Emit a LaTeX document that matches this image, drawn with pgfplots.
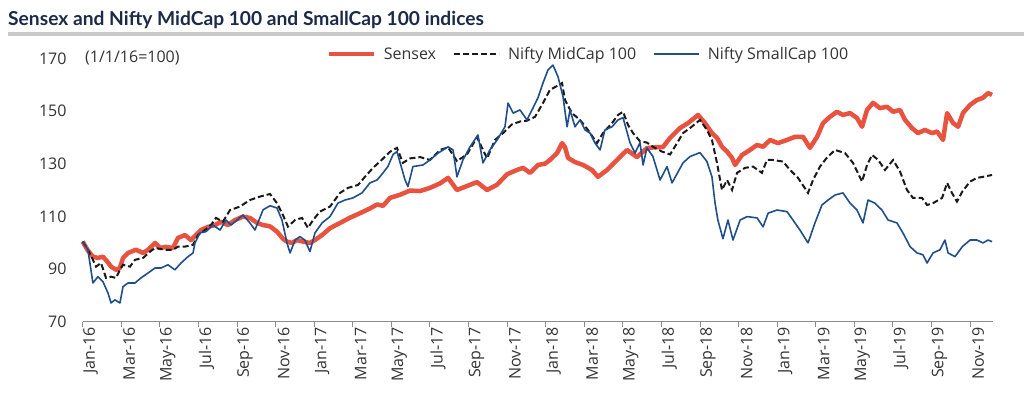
\documentclass[border=0pt]{standalone}
\usepackage{pgfplots}
\pgfplotsset{compat=1.18}
\usepackage{fontspec}
\setmainfont{Open Sans}
\newfontfamily\titlefam{Lato}
\definecolor{sensexred}{HTML}{E8533F}
\definecolor{midblack}{HTML}{1A1A1A}
\definecolor{smallblue}{HTML}{1F4E8A}
\definecolor{titlenavy}{HTML}{1B2A49}
\definecolor{rulegrey}{HTML}{C9C9C9}
\definecolor{axisgrey}{HTML}{8C8C8C}
\definecolor{labelgrey}{HTML}{333333}
\newcommand{\lblfont}{\fontsize{16}{19}\selectfont}
\begin{document}
\begin{tikzpicture}[x=1pt,y=1pt]
\useasboundingbox (0,0) rectangle (1024,397);
\node[anchor=base west, inner sep=0pt, text=titlenavy, font=\titlefam\bfseries\fontsize{19.2}{22}\selectfont] at (8,371) {Sensex and Nifty MidCap 100 and SmallCap 100 indices};
\draw[rulegrey, line width=3.5pt] (8,363) -- (1024,363);
\begin{axis}[
  at={(82.7pt,75.3pt)}, anchor=south west,
  scale only axis, width=910.5pt, height=263.4pt,
  xmin=0, xmax=47.2, ymin=70, ymax=170,
  axis x line*=bottom, axis y line*=left,
  x axis line style={draw=axisgrey, line width=1pt},
  y axis line style={draw=none},
  xtick={0,2,...,46},
  xticklabels={Jan-16,Mar-16,May-16,Jul-16,Sep-16,Nov-16,Jan-17,Mar-17,May-17,Jul-17,Sep-17,Nov-17,Jan-18,Mar-18,May-18,Jul-18,Sep-18,Nov-18,Jan-19,Mar-19,May-19,Jul-19,Sep-19,Nov-19},
  ytick={70,90,110,130,150,170},
  tick align=outside, major tick length=5pt,
  xtick style={draw=axisgrey, line width=1pt},
  ytick style={draw=none},
  /pgf/number format/assume math mode=true,
  tick label style={font=\lblfont, text=labelgrey},
  xticklabel style={rotate=90, anchor=east, inner sep=0pt, yshift=-8pt},
  yticklabel style={anchor=east, inner sep=0pt, xshift=-11pt},
  legend columns=3,
  legend style={draw=none, fill=none, at={(0.2674,1.016)}, anchor=west, inner sep=0pt,
    font=\lblfont, text=labelgrey,
    /tikz/every odd column/.style={column sep=6pt},
    /tikz/every even column/.style={column sep=15pt}},
  legend image code/.code={\draw[#1] (0pt,0pt) -- (45pt,0pt);},
  clip=false,
]
\addplot[sensexred, line width=4.5pt, line join=round] coordinates {
(0,100.4)(0.27,97)(0.53,94.7)(0.79,94.2)(1.05,94.7)(1.31,92.5)(1.47,90.9)(1.73,89.7)(1.93,90.4)(2.09,94.2)(2.35,96.1)(2.76,97.3)(3.13,96.1)(3.39,97.3)(3.75,99.9)(4.01,98)(4.32,98.4)(4.68,98)(4.94,101.8)(5.30,102.9)(5.61,101)(5.87,102.9)(6.13,104.8)(6.50,106)(6.86,106.7)(7.17,107.9)(7.53,106.7)(7.90,108.6)(8.31,109.9)(8.67,109.4)(9.04,107.5)(9.35,106.7)(9.71,106.2)(10.07,104.2)(10.38,101.5)(10.59,100.4)(10.85,99.9)(11.11,101)(11.42,100.4)(11.78,99.9)(12.04,101)(12.41,102.9)(12.82,105.5)(13.34,107.5)(13.86,109.5)(14.38,111.2)(14.89,113)(15.26,114.5)(15.57,114)(15.93,117)(16.45,118.2)(16.97,119.8)(17.49,119.6)(18.00,120.8)(18.52,122.5)(18.94,124.6)(19.40,120)(19.92,121.5)(20.44,123)(20.96,120)(21.48,122)(22.00,126)(22.51,127.6)(22.83,128.4)(23.19,126.5)(23.60,129.5)(23.97,130)(24.22,131.4)(24.59,134)(24.85,137.8)(25.00,136.3)(25.16,132.2)(25.52,130.6)(25.94,129.5)(26.40,127.6)(26.71,125)(27.18,127.6)(27.70,131.4)(28.22,135.2)(28.73,132.5)(29.25,135.9)(29.77,136.3)(30.08,136.3)(30.45,139.8)(30.96,143.5)(31.38,145.4)(31.90,148.5)(32.26,145.4)(32.62,141.6)(32.88,139.8)(33.14,136.4)(33.40,134.6)(33.66,132.2)(33.82,129.5)(34.18,133.3)(34.59,135.2)(34.96,137.1)(35.27,136.4)(35.63,139)(36.04,137.8)(36.51,139)(36.93,140.2)(37.34,140.2)(37.70,136)(38.07,140.2)(38.38,145.4)(38.74,147.8)(39.10,149.7)(39.41,148.5)(39.78,149.2)(40.14,147.3)(40.40,144)(40.66,150.4)(40.97,153.1)(41.33,151.1)(41.70,151.6)(42.01,149.7)(42.37,150.4)(42.63,146.6)(42.99,143.5)(43.30,141.6)(43.66,142.8)(44.03,141.6)(44.29,142.2)(44.60,139)(44.81,149.2)(45.12,145.4)(45.38,144)(45.63,149.2)(46.00,152.3)(46.36,154.2)(46.67,155)(46.93,156.8)(47.14,156.1)
};
\addlegendentry{Sensex}
\addplot[midblack, line width=2pt, dash pattern=on 6pt off 3pt] coordinates {
(0,100.4)(0.27,97.3)(0.53,93.5)(0.69,90.9)(0.95,92.3)(1.21,86.6)(1.47,87.1)(1.73,86.6)(1.93,89.7)(2.09,91.6)(2.45,90.9)(2.71,93.5)(3.13,94.2)(3.49,96.6)(3.75,98)(4.27,97.3)(4.68,97.3)(4.94,98.5)(5.30,98.5)(5.72,99.2)(5.98,102.9)(6.34,104.8)(6.65,106.7)(6.91,109.4)(7.27,108)(7.64,112.4)(8.15,113.7)(8.67,116.2)(9.19,117.5)(9.71,118.5)(10.07,115)(10.38,110.5)(10.64,106.1)(11.01,108.6)(11.37,109.4)(11.68,105.6)(11.94,108.6)(12.30,111.8)(12.82,113.7)(13.34,118.9)(13.75,120.8)(14.27,121.9)(14.63,125)(15.05,128.4)(15.41,130.8)(15.93,134.5)(16.29,136)(16.60,130.3)(16.97,132)(17.49,132.5)(18.00,131.4)(18.52,135.2)(18.94,136.2)(19.40,131)(19.92,133.5)(20.44,140)(20.96,132)(21.37,139)(21.79,141.6)(22.25,144.9)(22.67,146)(23.03,146.3)(23.45,147.8)(23.86,153)(24.22,158)(24.59,159.5)(24.85,160.6)(25.00,154.2)(25.36,149.2)(25.78,146.6)(26.19,142.8)(26.66,137.8)(26.97,141.6)(27.44,145.4)(27.75,148.5)(28.01,149.7)(28.27,144.7)(28.53,141.6)(28.89,138.5)(29.25,138)(29.56,136.4)(30.03,134.6)(30.45,133.5)(30.81,137.8)(31.12,141.6)(31.48,143.5)(32.00,146.6)(32.36,142.8)(32.62,139)(32.88,130.3)(33.14,120)(33.40,123.8)(33.66,120)(33.92,126.5)(34.33,128.4)(34.75,128.9)(35.21,126.5)(35.47,131.4)(35.78,131.4)(36.30,130.8)(36.67,127.6)(37.08,124.6)(37.60,118.9)(37.86,123.8)(38.22,128.9)(38.57,132.2)(39.00,135.2)(39.52,134)(39.93,130.3)(40.40,123.2)(40.66,129.5)(40.92,133.3)(41.24,131.4)(41.59,127.6)(42.01,131.4)(42.37,127)(42.73,120)(43.04,117)(43.51,117)(43.77,114.3)(44.08,115)(44.55,117)(44.81,122.7)(45.06,118.9)(45.32,115.6)(45.60,119.4)(46.00,123.2)(46.36,124.6)(46.67,125)(47.14,125.7)
};
\addlegendentry{Nifty MidCap 100}
\addplot[smallblue, line width=1.6pt, line join=round] coordinates {
(0,100.4)(0.27,97.3)(0.53,84.7)(0.79,87.1)(1.05,85.2)(1.31,80.9)(1.47,77.1)(1.67,78.3)(1.93,77.1)(2.09,83.3)(2.35,84.7)(2.71,84.7)(3.02,86.6)(3.39,88.5)(3.75,90.4)(4.06,90.4)(4.42,91.6)(4.78,89.7)(5.10,92.3)(5.46,94.7)(5.72,96.1)(5.82,99.9)(6.08,103.7)(6.39,104.2)(6.75,106.7)(7.12,104.8)(7.43,108.6)(7.69,106.7)(8.00,108.6)(8.31,110.5)(8.67,107.5)(8.93,104.8)(9.35,112.5)(9.71,114)(10.07,113.2)(10.33,108.6)(10.59,99.9)(10.75,96.1)(11.01,101)(11.26,102.3)(11.52,101)(11.78,96.6)(12.04,103.7)(12.41,107.5)(12.82,109.9)(13.23,115)(13.60,116.2)(14.01,117)(14.48,118.9)(14.89,122.7)(15.26,123.8)(15.57,126.5)(15.82,128.9)(16.09,133.5)(16.29,134.6)(16.71,123.8)(16.86,121.3)(17.12,128.9)(17.64,129.5)(18.00,131.4)(18.42,134)(18.94,136.4)(19.20,135.2)(19.40,125)(19.71,131.4)(20.08,136.4)(20.49,140.9)(20.75,130.3)(21.11,135.2)(21.48,139)(21.89,144)(22.05,153)(22.31,149.2)(22.67,150.4)(23.03,146.6)(23.34,151.1)(23.60,155)(23.86,160.6)(24.12,165.6)(24.38,167.4)(24.64,163)(24.90,155.4)(25.11,144)(25.26,150.4)(25.52,144)(25.78,146.6)(26.04,142.8)(26.30,141.6)(26.56,137.8)(26.82,135.2)(27.07,142.8)(27.44,144)(27.75,146.6)(28.01,147.5)(28.37,138)(28.63,134)(28.89,138)(29.05,129.5)(29.25,136)(29.56,132.7)(29.93,123.8)(30.29,128.9)(30.55,122.7)(31.12,130.3)(31.48,132.7)(32.00,134.2)(32.36,130.8)(32.62,125)(32.78,115)(32.93,108.5)(33.19,101.5)(33.45,108.6)(33.71,101)(34.08,108.6)(34.44,109.9)(34.96,109.4)(35.27,106)(35.53,111.2)(35.99,112.4)(36.51,111.8)(36.82,108.6)(37.18,104.8)(37.60,99.9)(37.96,107.5)(38.32,114.3)(38.64,116.2)(39.00,118.1)(39.41,118.9)(39.78,115)(40.14,112.4)(40.45,107.5)(40.71,116.2)(41.07,115)(41.43,112.4)(41.75,108.6)(42.21,107.5)(42.52,103.7)(42.89,98.5)(43.25,96.1)(43.56,95.4)(43.77,92.3)(44.08,96.1)(44.44,97.3)(44.70,101)(44.86,96.1)(45.22,94.7)(45.60,98.5)(46.00,101)(46.36,101)(46.67,99.9)(46.93,101)(47.14,100.4)
};
\addlegendentry{Nifty SmallCap 100}
\node[anchor=west, inner sep=0pt, font=\lblfont, text=labelgrey] at (axis description cs:0.0025,1) {(1/1/16=100)};
\end{axis}
\end{tikzpicture}
\end{document}
